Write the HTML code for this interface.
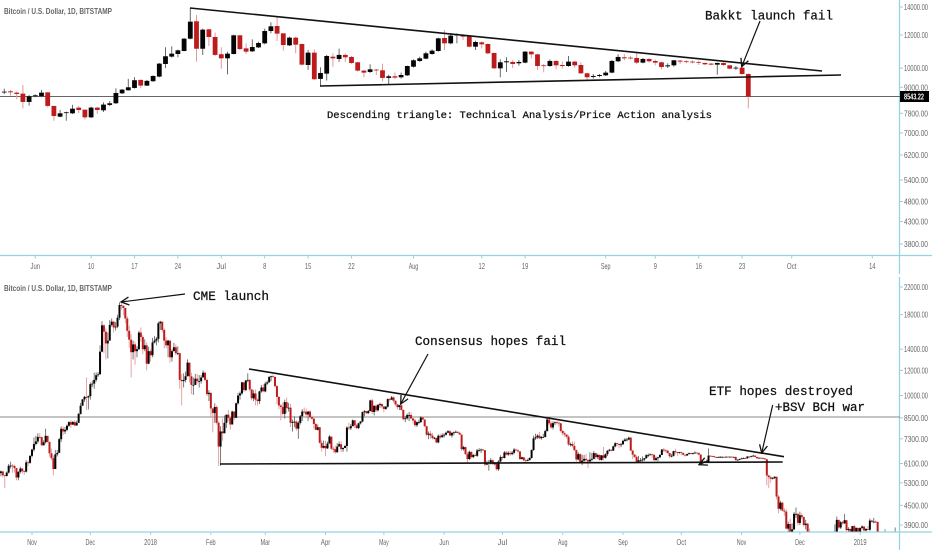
<!DOCTYPE html>
<html lang="en">
<head>
<meta charset="utf-8">
<title>Bitcoin descending triangle charts</title>
<style>
html,body{margin:0;padding:0;background:#fff;width:932px;height:550px;overflow:hidden}
svg{display:block;filter:blur(0.35px)}
.ann{font-family:"Liberation Mono",monospace;fill:#111;stroke:#111;stroke-width:0.25px}
.ttl{font-family:"Liberation Sans",sans-serif;fill:#666;font-size:8.5px;font-weight:bold}
.tick{font-family:"Liberation Sans",sans-serif;fill:#666;font-size:8.5px}
</style>
</head>
<body>
<svg id="chart" xmlns="http://www.w3.org/2000/svg" width="932" height="550" viewBox="0 0 932 550">
  <defs>
    <clipPath id="clip-bottom"><rect x="0" y="270" width="899" height="261.5"/></clipPath>
    <marker id="arrow" viewBox="0 0 10 10" refX="9" refY="5" markerUnits="userSpaceOnUse" markerWidth="10" markerHeight="10" orient="auto">
      <path d="M1,1 L9,5 L1,9" fill="none" stroke="#111" stroke-width="1.3"/>
    </marker>
  </defs>
  <rect x="0" y="0" width="932" height="550" fill="#fff"/>

  <g id="top-axis"></g>
  <g id="bottom-axis"></g>

  <line x1="0" y1="96.5" x2="900" y2="96.5" stroke="#666" stroke-width="1"/>
  <line x1="0" y1="417" x2="900" y2="417" stroke="#888" stroke-width="1"/>

  <g id="top-candles"></g>
  <g id="bottom-candles" clip-path="url(#clip-bottom)"></g>

  <rect x="884.5" y="529" width="1" height="2.5" fill="#999"/>
  <rect x="894.5" y="527.5" width="1.5" height="4" fill="#aaa"/>

  <text class="ttl" x="4" y="14" textLength="108" lengthAdjust="spacingAndGlyphs">Bitcoin / U.S. Dollar, 1D, BITSTAMP</text>
  <text class="ttl" x="4" y="291" textLength="108" lengthAdjust="spacingAndGlyphs">Bitcoin / U.S. Dollar, 1D, BITSTAMP</text>

  <line x1="190" y1="8" x2="822" y2="71" stroke="#111" stroke-width="1.6"/>
  <line x1="320" y1="86" x2="841" y2="75" stroke="#111" stroke-width="1.6"/>
  <line x1="760" y1="21" x2="741.7" y2="66.7" stroke="#111" stroke-width="1.2" marker-end="url(#arrow)"/>

  <line x1="249" y1="369" x2="784" y2="456.7" stroke="#111" stroke-width="1.6"/>
  <line x1="220" y1="464" x2="782.7" y2="462" stroke="#111" stroke-width="1.6"/>
  <line x1="185" y1="294" x2="121" y2="302" stroke="#111" stroke-width="1.2" marker-end="url(#arrow)"/>
  <line x1="428" y1="354" x2="400.7" y2="404" stroke="#111" stroke-width="1.2" marker-end="url(#arrow)"/>
  <line x1="772.7" y1="405" x2="761.7" y2="453" stroke="#111" stroke-width="1.2" marker-end="url(#arrow)"/>
  <line x1="708" y1="460.7" x2="699" y2="464.7" stroke="#111" stroke-width="1.2" marker-end="url(#arrow)"/>

  <text class="ann" x="327" y="118" font-size="10.5" textLength="385" lengthAdjust="spacingAndGlyphs">Descending triangle: Technical Analysis/Price Action analysis</text>
  <text class="ann" x="705" y="19.5" font-size="12.5" textLength="128" lengthAdjust="spacingAndGlyphs">Bakkt launch fail</text>
  <text class="ann" x="193" y="300" font-size="12.5" textLength="76" lengthAdjust="spacingAndGlyphs">CME launch</text>
  <text class="ann" x="415" y="345" font-size="12.5" textLength="151" lengthAdjust="spacingAndGlyphs">Consensus hopes fail</text>
  <text class="ann" x="709" y="395" font-size="12.5" textLength="144" lengthAdjust="spacingAndGlyphs">ETF hopes destroyed</text>
  <text class="ann" x="775" y="411" font-size="12.5" textLength="90" lengthAdjust="spacingAndGlyphs">+BSV BCH war</text>

  <rect x="900" y="91" width="29" height="11" fill="#000"/>
  <text x="904" y="99.5" font-family="Liberation Sans, sans-serif" font-size="8.5" font-weight="bold" fill="#fff" textLength="20" lengthAdjust="spacingAndGlyphs">8543.22</text>
</svg>

<script>
/* ---------- TOP CHART: daily candles starting 27 May 2019 ---------- */
const topOpens = [8754,8801,8738,8691,8302,8565,8565,8754,8122,7656,7813,7799,8047,7958,7628,8047,7929,8167,8242,8706,8851,8967,9374,9083,9306,9544,10232,10655,10810,10990,11760,12940,11127,12381,11870,10795,10555,10810,11980,11148,10970,11211,11463,12266,12611,12112,11337,11826,11421,10175,10890,9425,9702,10650,10517,10755,10635,10327,9864,9792,9918,9882,9476,9561,9510,9612,10080,10403,10536,10810,10990,11804,11463,11980,12002,11914,11253,11526,11421,10870,9990,10327,10346,10270,10308,10950,10790,10156,10118,10403,10175,10118,10365,10175,9720,9527,9578,9612,9756,10384,10615,10595,10575,10308,10517,10403,10327,10099,10156,10422,10384,10365,10346,10289,10251,10194,10289,10156,9990,10026,9684];
const topHighs = [8934,8868,8785,9115,8628,8659,8868,8754,8122,7943,7871,8167,8122,7958,8092,8077,8287,8347,8950,8917,9425,9510,9391,9374,9612,10289,11218,11274,11071,11804,13897,13400,12427,12404,12158,11218,10950,12024,12002,11463,11716,11568,12427,12867,13227,12112,11892,11892,11442,11050,11090,10044,10755,10850,11134,10850,10695,10346,9900,10213,9954,10251,9647,9756,9756,10137,10498,10655,10950,11090,11826,12335,12112,12112,12046,11936,11628,11590,11463,10890,10498,10615,10460,10460,10990,10990,10830,10232,10498,10441,10365,10690,10403,10327,9756,9683,9683,9846,10460,10795,10810,10695,10950,10575,10575,10479,10365,10270,10460,10460,10441,10441,10422,10308,10289,10308,10327,10175,10118,10175,9720];
const topLows = [8675,8597,8424,8015,8137,8518,8518,8062,7486,7628,7486,7770,7799,7542,7600,7770,7857,8122,8212,8675,8835,8934,8967,9066,9272,9510,10008,10595,10615,10970,11716,10365,10755,11295,10695,9954,9665,10790,11050,10810,10930,11169,11400,12112,11606,11010,11295,10850,10137,9900,9374,9033,9340,10080,10346,10346,10232,9810,9510,9738,9629,9306,9115,9425,9442,9578,10026,10346,10498,10770,10950,11050,11400,11463,11672,11211,11050,11148,10790,9954,9510,9792,10008,10137,10270,10536,9900,9774,10080,9936,9972,10080,10026,9684,9374,9442,9510,9578,9720,10346,10441,10498,10232,10270,10308,10156,9936,10008,10080,10232,10270,10270,10175,10156,10156,9647,10118,9936,9900,9629,8015];
const topCloses = [8785,8754,8675,8302,8565,8612,8738,8122,7684,7799,7842,8000,7943,7628,8047,7943,8182,8242,8722,8884,9000,9357,9083,9323,9578,10251,10675,10830,11030,11760,12915,11127,12358,11870,10755,10555,10830,11980,11106,10950,11232,11484,12266,12588,12090,11358,11826,11379,10194,10890,9408,9738,10690,10555,10755,10615,10289,9864,9756,9936,9882,9476,9561,9493,9629,10118,10441,10555,10850,11010,11782,11463,11958,12024,11892,11253,11547,11400,10850,9990,10327,10384,10232,10346,10950,10790,10118,10118,10403,10156,10118,10365,10156,9720,9510,9578,9629,9756,10403,10635,10555,10555,10308,10517,10384,10308,10062,10156,10441,10365,10346,10327,10308,10213,10194,10289,10175,9972,10026,9684,8543];

const topMonthLabels = ["Jun","10","17","24","Jul","8","15","22","Aug","12","19","Sep","9","16","23","Oct","14"];
const topLabelDays = [5,14,21,28,35,42,49,56,66,77,84,97,105,112,119,127,140];
const topPriceTicks = [14000,12000,10000,9000,7800,7000,6200,5400,4800,4300,3800];

/* ---------- BOTTOM CHART: daily candles, one line per month, from 16 Oct 2017 ---------- */
const bottomFirstOpen = 5690;
const bottomCloses = [
5760,5600,5570,5710,6000,6010,5990,5900,5510,5740,5880,5770,5750,6150,6130,6450,
6750,7030,7160,7400,7390,6960,7120,7460,7140,6570,6340,5860,6520,6590,7280,7850,7700,7790,8030,8240,8090,8250,8040,8200,8750,9280,9720,9900,9860,9950,
10860,10900,11200,11590,11660,13750,16650,15900,14600,14900,16700,17100,16400,16500,17600,19300,19200,18900,17500,16000,15000,13700,14500,13800,14000,15800,15300,14000,14400,12600,13800,
13400,14700,14900,15100,16900,17100,16100,14900,14400,14900,13200,13800,14200,13600,13600,11200,11100,11200,11500,12700,11500,10800,10800,11300,11100,11100,11400,11800,11200,10100,10200,
9100,8800,9200,8200,6900,7700,7600,8200,8700,8500,8100,8900,8500,9450,10000,10150,11000,10400,11150,11200,10450,9800,10150,9700,9600,10300,10600,10300,
10900,11000,11450,11500,11450,10700,9900,9300,9200,8750,9530,9130,9150,8200,8250,8270,7860,8200,8600,8900,8890,8710,8900,8540,8450,8130,7790,7940,7090,6840,6930,
6810,7050,7420,6790,6770,6620,6900,7020,6770,6830,6930,7920,7880,8000,8350,8050,7890,8170,8280,8860,8920,8790,8930,9650,8870,9280,8980,9340,9400,9240,
9070,9220,9740,9700,9860,9620,9370,9190,9310,9000,8420,8470,8680,8680,8460,8340,8060,8240,8240,8520,8400,8000,7520,7580,7470,7340,7350,7110,7460,7380,7490,
7520,7630,7710,7480,7620,7650,7680,7620,7530,6770,6870,6530,6300,6640,6390,6490,6450,6710,6730,6750,6720,6050,6140,6150,6250,6070,6130,5850,6190,6390,
6350,6610,6510,6590,6530,6600,6750,6710,6660,6300,6380,6240,6220,6250,6350,6730,7320,7380,7470,7330,7400,7400,7720,8400,8170,7930,8180,8230,8210,8170,7730,
7600,7530,7410,7010,7030,6930,6720,6280,6530,6150,6230,6310,6250,6190,6270,6310,6580,6390,6490,6260,6470,6360,6530,6690,6740,6700,6910,7070,7030,6980,7010,
7190,7260,7260,7360,6700,6510,6400,6180,6240,6240,6280,6340,6480,6480,6520,6500,6250,6340,6380,6490,6750,6710,6700,6580,6430,6450,6670,6630,6590,6620,
6580,6500,6470,6540,6580,6550,6570,6600,6590,6510,6150,6180,6190,6180,6460,6440,6430,6390,6380,6400,6400,6400,6390,6410,6400,6410,6400,6400,6260,6270,6300,
6330,6350,6340,6420,6400,6430,6460,6400,6340,6360,6350,6330,6290,5590,5520,5460,5490,5540,4800,4390,4590,4330,4300,3800,3930,3720,3780,4230,4230,3960,
4190,4130,3900,3940,3700,3420,3380,3370,3520,3410,3350,3420,3240,3190,3190,3200,3510,3670,3680,4050,3830,3980,3950,4040,3760,3790,3590,3870,3700,3820,3690,
3820,3860,3750,3790,3770,4030,3990,4000,3990,3630];
const bottomHighs = [
5800,5770,5620,5760,6080,6180,6070,6050,5900,5770,5960,5900,5800,6250,6230,6480,
6790,7380,7460,7600,7600,7420,7220,7860,7350,7000,6800,6470,6720,6730,7350,7990,7990,7960,8100,8300,8370,8300,8360,8330,8800,9480,9750,9980,11400,10000,
11000,11150,11800,11830,11850,14400,17170,16800,16300,15800,17300,17500,17200,17050,17990,19700,19800,19200,18900,17800,16600,15600,14900,14800,14300,16000,16400,15500,15050,14700,14250,
14000,15200,15400,15300,17100,17200,17100,16300,15300,15000,14900,14000,14650,14500,14300,13650,11700,11750,11900,13000,12700,11800,11400,11700,11700,11600,11600,12000,11900,11300,10400,
10200,9100,9450,9300,8300,8000,8450,8650,8700,9000,8500,8950,8900,9500,10200,10290,11050,11050,11200,11750,11250,10500,10400,10450,9800,10350,10800,10850,
11050,11150,11500,11550,11650,11450,10800,9950,9380,9500,9700,9850,9480,9400,8400,8600,8350,8300,8680,9050,9170,9100,8920,8990,8650,8500,8200,8100,7950,7250,7200,
7200,7150,7500,7400,6900,6950,7080,7150,7180,6850,6970,8000,8200,8130,8400,8350,8140,8200,8300,8900,9000,8950,9000,9700,9780,9300,9380,9400,9500,9440,
9230,9270,9800,9800,9970,9930,9660,9400,9350,9370,9030,8620,8770,8880,8840,8480,8440,8280,8380,8600,8580,8380,8030,7700,7730,7620,7400,7350,7540,7550,7600,
7600,7700,7780,7760,7660,7700,7760,7700,7690,7530,6940,6900,6640,6700,6650,6540,6580,6780,6820,6800,6780,6730,6230,6260,6350,6270,6170,6170,6250,6480,
6440,6680,6680,6670,6690,6680,6830,6790,6780,6680,6410,6400,6330,6320,6380,6760,7460,7570,7550,7680,7450,7570,7800,8480,8480,8300,8290,8280,8300,8280,8200,
7770,7700,7540,7500,7100,7170,7140,6760,6620,6570,6500,6490,6540,6310,6620,6590,6680,6590,6550,6530,6490,6880,6560,6730,6790,6780,6950,7120,7100,7060,7080,
7250,7340,7340,7410,7400,6720,6530,6470,6450,6350,6420,6350,6530,6560,6560,6550,6520,6420,6400,6530,6780,6830,6770,6720,6600,6540,6690,6790,6630,6640,
6650,6610,6510,6550,6600,6590,6600,6660,6620,6600,6520,6200,6220,6290,6800,6470,6460,6450,6410,6420,6440,6430,6420,6420,6420,6420,6420,6410,6410,6290,6320,
6360,6380,6380,6430,6430,6460,6500,6470,6380,6370,6370,6380,6340,6310,5620,5580,5530,5560,5550,4850,4650,4620,4410,4380,4000,4080,3950,4290,4430,4260,
4300,4260,4160,4050,3960,3800,3450,3470,3650,3540,3430,3480,3450,3280,3220,3270,3600,3700,3920,4150,4050,4020,4020,4230,4040,3840,3810,3870,3910,3830,3830,
3830,3890,3860,3820,3870,4090,4050,4110,4030,4000];
const bottomLows = [
5560,5510,5100,5550,5670,5880,5700,5720,5400,5400,5670,5680,5620,5710,5980,6090,
6370,6650,6950,7050,7300,6940,6960,7050,7100,6400,6260,5600,5870,6420,6620,7130,7500,7560,7720,7950,7900,8080,8000,8030,8210,8700,9290,9550,9000,9040,
9700,10630,10500,11050,11450,11650,13700,13600,13000,13100,14900,16500,15800,16050,16300,17300,18650,17900,16900,15300,14150,11400,13000,12500,13200,13900,14800,13500,13800,12000,12550,
12800,13200,14600,14400,14700,16100,15800,14100,14100,13200,12700,12800,13800,13400,13400,10500,9300,10600,11000,11500,11000,10100,10050,10800,10900,10600,10900,11400,11100,9950,9600,
8500,7650,8200,8100,6000,6000,7200,7600,7900,8300,7800,8100,8350,8480,9350,9700,10050,10250,10320,11000,10300,9650,9600,9300,9300,9400,10200,10300,
10230,10800,11000,11100,11350,10600,9400,9050,8350,8650,8450,8800,8900,7950,7700,7950,7750,7300,8100,8300,8750,8480,8300,8450,8380,7850,7780,7750,7050,6650,6800,
6430,6780,7050,6750,6600,6550,6600,6960,6640,6640,6820,6650,7770,7780,8000,7900,7830,7840,8100,8230,8600,8750,8760,8920,8750,8650,8870,8900,9150,9100,
8850,9000,9150,9570,9700,9490,9270,9040,9000,8970,8350,8230,8400,8300,8410,8150,7950,7950,8120,8190,8360,7950,7440,7280,7300,7270,7270,7060,7060,7280,7370,
7370,7480,7620,7440,7370,7480,7620,7600,7510,6680,6700,6500,6130,6250,6330,6340,6430,6400,6650,6580,6680,5980,6030,5790,6060,6050,6020,5800,5780,6170,
6270,6330,6470,6450,6450,6480,6520,6690,6610,6270,6290,6200,6130,6200,6240,6320,6680,7240,7290,7280,7250,7350,7380,7700,8050,7850,7810,8060,8100,8000,7650,
7470,7400,7320,6930,6900,6850,6690,6180,6240,6100,6030,6180,6180,5900,6180,6210,6290,6290,6300,6230,6230,6240,6320,6440,6660,6650,6680,6860,6920,6810,6870,
7000,7140,7170,7230,6680,6300,6350,6130,6150,6180,6180,6210,6320,6390,6470,6360,6220,6240,6200,6340,6490,6620,6610,6550,6350,6380,6420,6540,6450,6550,
6480,6460,6410,6440,6510,6510,6520,6550,6560,6470,6100,6130,6170,6130,6170,6400,6400,6360,6350,6370,6380,6390,6370,6380,6380,6380,6380,6390,6210,6230,6250,
6300,6320,6300,6310,6340,6380,6410,6360,6300,6330,6310,6300,6260,5200,5100,5300,5430,5450,4700,4250,4340,4310,4170,3780,3500,3630,3670,3760,4110,3890,
3900,4070,3850,3780,3690,3400,3220,3250,3350,3350,3310,3320,3200,3140,3170,3180,3220,3480,3650,3660,3780,3790,3910,3930,3700,3680,3550,3570,3680,3680,3640,
3650,3780,3730,3730,3760,3740,3970,3950,3960,3550];

const bottomMonthLabels = ["Nov","Dec","2018","Feb","Mar","Apr","May","Jun","Jul","Aug","Sep","Oct","Nov","Dec","2019"];
const bottomLabelDays = [16,46,77,108,136,167,197,228,258,289,320,350,381,411,442];
const bottomPriceTicks = [22000,18000,14000,12000,10000,8500,7300,6100,5300,4500,3900];

/* ---------- axis functions ---------- */
function topX(i){ return 4.3 + 6.2 * i; }
function topY(p){ return 7 + 181.7 * Math.log(14000 / p); }
function bottomX(i){ return 32 + 1.944 * (i - 16); }
function bottomY(p){ return 287 + 137.6 * Math.log(22000 / p); }

const NS = 'http://www.w3.org/2000/svg';
const UP = '#050505', DOWN = '#bd1c1c', UP_WICK = '#6a6a6a', DOWN_WICK = '#e39a9a';
const AXIS = '#93d3e3';

function mk(tag, attrs, parent){
  const el = document.createElementNS(NS, tag);
  for (const k in attrs) el.setAttribute(k, attrs[k]);
  parent.appendChild(el);
  return el;
}

function drawCandle(parent, x, o, h, l, c, yf, w, wickW){
  const up = c >= o;
  const g = mk('g', {}, parent);
  
  
  const wick = mk('line', {x1:x, x2:x, y1:yf(h), y2:yf(l), stroke: up ? UP_WICK : DOWN_WICK, 'stroke-width':wickW}, g);
  
  
  const top = yf(Math.max(o, c));
  const ht = Math.max(yf(Math.min(o, c)) - top, 0.8);
  const body = mk('rect', {x:x - w / 2, y:top, width:w, height:ht, fill: up ? UP : DOWN}, g);
  
  
}

function drawAxes(parent, yAxisLine, tickVals, yf, labels, days, xf, labelY){
  const hz = mk('line', {x1:0, x2:932, y1:yAxisLine, y2:yAxisLine, stroke:AXIS, 'stroke-width':1.3}, parent);
  
  
  tickVals.forEach(function(v){
    const y = yf(v);
    const t = mk('line', {x1:900, x2:903, y1:y, y2:y, stroke:AXIS, 'stroke-width':1}, parent);
    
    
    const s = mk('text', {x:904, y:y + 3, 'class':'tick', textLength:24, lengthAdjust:'spacingAndGlyphs'}, parent);
    
    
    s.textContent = v.toFixed(2);
  });
  labels.forEach(function(lab, i){
    const x = xf(days[i]);
    const t = mk('line', {x1:x, x2:x, y1:yAxisLine, y2:yAxisLine + 3, stroke:AXIS, 'stroke-width':1}, parent);
    
    
    const s = mk('text', {x:x - lab.length * 1.6, y:labelY, 'class':'tick', textLength:lab.length * 3.2, lengthAdjust:'spacingAndGlyphs'}, parent);
    
    
    s.textContent = lab;
  });
}

const topAxisG = document.getElementById('top-axis');
const bottomAxisG = document.getElementById('bottom-axis');
const vTop = mk('line', {x1:899.5, x2:899.5, y1:0, y2:274, stroke:AXIS, 'stroke-width':1.2}, topAxisG);


const vBottom = mk('line', {x1:899.5, x2:899.5, y1:277, y2:550, stroke:AXIS, 'stroke-width':1.2}, bottomAxisG);



drawAxes(topAxisG, 255.5, topPriceTicks, topY, topMonthLabels, topLabelDays, topX, 269);
drawAxes(bottomAxisG, 532, bottomPriceTicks, bottomY, bottomMonthLabels, bottomLabelDays, bottomX, 545);

const topG = document.getElementById('top-candles');
topCloses.forEach(function(c, i){
  drawCandle(topG, topX(i), topOpens[i], topHighs[i], topLows[i], c, topY, 4.8, 1);
});

const bottomG = document.getElementById('bottom-candles');
bottomCloses.forEach(function(c, i){
  const o = i === 0 ? bottomFirstOpen : bottomCloses[i - 1];
  drawCandle(bottomG, bottomX(i), o, bottomHighs[i], bottomLows[i], c, bottomY, 2, 0.9);
});
</script>
</body>
</html>
